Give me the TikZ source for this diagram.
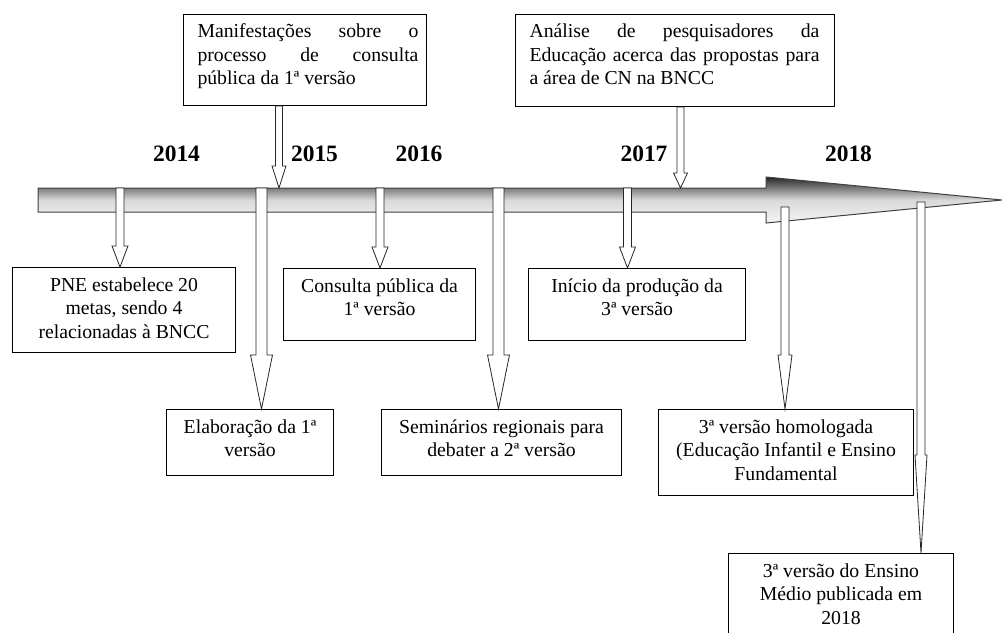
\documentclass[tikz,border=0pt]{standalone}
\usepackage{fontspec}
\setmainfont{Liberation Serif}
\usetikzlibrary{calc}
\newcommand{\cbox}[3]{\parbox[c][#2][t]{#1}{\vspace*{5.75pt}\centering\strut #3}}
\newcommand{\jbox}[4]{\hspace*{10.5pt}\parbox[c][#2][t]{#1}{\vspace*{5.35pt}\strut #4}\hspace*{#3}}
\newcommand{\blockarrow}[6]{\draw[hollow] let \p1=(#1), \p2=(#2), \p3=(#3) in
  (\x1-#5,\y2) -- (\x1+#5,\y2) -- (\x1+#5,\y3+#4) -- (\x1+#6,\y3+#4) -- (\x1,\y3)
  -- (\x1-#6,\y3+#4) -- (\x1-#5,\y3+#4) -- cycle;}
\tikzset{
  tbox/.style={draw, line width=0.75pt, fill=white, inner sep=0pt, anchor=north west,
    font=\fontsize{14.8}{17.5}\selectfont},
  year/.style={inner sep=0pt, font=\bfseries\fontsize{17.6}{20}\selectfont},
  hollow/.style={draw=black!85, line width=0.6pt, fill=white, line join=miter},
  timeline/.style={draw=black!75, line width=0.75pt, top color=black!85, bottom color=black!4, middle color=black!15}
}
\begin{document}
\begin{tikzpicture}[x=0.75pt,y=-0.75pt]
\useasboundingbox (0,0) rectangle (1002,632);
% main timeline arrow
\shade[timeline] (38,188) -- (766,188) -- (766,177) -- (1002,200) -- (766,223) -- (766,212) -- (38,212) -- cycle;
% anchor points on the timeline
\coordinate (t1) at (120,188);
\coordinate (t2) at (261.5,188);
\coordinate (t3) at (380,188);
\coordinate (t4) at (498.5,188);
\coordinate (t5) at (627.5,188);
\coordinate (t6) at (785,207);
\coordinate (t7) at (921,202);
\coordinate (tm) at (279,188);
\coordinate (ta) at (680.5,188);
% years
\node[year] (y2014) at (176.5,154) {2014};
\node[year] (y2015) at (314.5,154) {2015};
\node[year] (y2016) at (419,154) {2016};
\node[year] (y2017) at (644,154) {2017};
\node[year] (y2018) at (848.5,154) {2018};
% boxes
\node[tbox] (manif) at (183,14) {\jbox{165.75pt}{68.25pt}{6pt}{Manifestações\hfill sobre\hfill o\\processo\hfill de\hfill consulta\\pública da 1ª versão}};
\node[tbox] (analise) at (515,14) {\jbox{217.5pt}{69pt}{11.25pt}{Análise\hfill de\hfill pesquisadores\hfill da\\Educação\hfill acerca\hfill das\hfill propostas\hfill para\\a área de CN na BNCC}};
\node[tbox] (pne) at (12,267) {\cbox{167.25pt}{63.75pt}{PNE estabelece 20\\metas, sendo 4\\relacionadas à BNCC}};
\node[tbox] (consulta) at (283,268) {\cbox{144pt}{54pt}{Consulta pública da\\1ª versão}};
\node[tbox] (elab) at (166,409) {\cbox{125.25pt}{49.5pt}{Elaboração da 1ª\\versão}};
\node[tbox] (semi) at (381,409) {\cbox{180pt}{49.5pt}{Seminários regionais para\\debater a 2ª versão}};
\node[tbox] (inicio) at (528,268) {\cbox{162.75pt}{54pt}{Início da produção da\\3ª versão}};
\node[tbox] (homol) at (658,409) {\cbox{191.25pt}{64.5pt}{3ª versão homologada\\(Educação Infantil e Ensino\\Fundamental}};
\node[tbox] (medio) at (728,553) {\cbox{168.75pt}{65.25pt}{3ª versão do Ensino\\Médio publicada em\\2018}};
% hollow block arrows
\blockarrow{t1}{t1}{pne.north}{15.75pt}{3pt}{6pt}
\blockarrow{t2}{t2}{elab.north}{40.5pt}{4.1pt}{8.25pt}
\blockarrow{t3}{t3}{consulta.north}{15.75pt}{3pt}{6pt}
\blockarrow{t4}{t4}{semi.north}{40.5pt}{4.1pt}{8.25pt}
\blockarrow{t5}{t5}{inicio.north}{15.75pt}{3pt}{6pt}
\blockarrow{t6}{t6}{homol.north}{40.5pt}{3pt}{5.25pt}
\blockarrow{t7}{t7}{medio.north}{73.5pt}{3pt}{4.5pt}
\blockarrow{tm}{manif.south}{tm}{16.5pt}{2.6pt}{5.25pt}
\blockarrow{ta}{analise.south}{ta}{11.25pt}{2.6pt}{5.25pt}
\end{tikzpicture}
\end{document}
